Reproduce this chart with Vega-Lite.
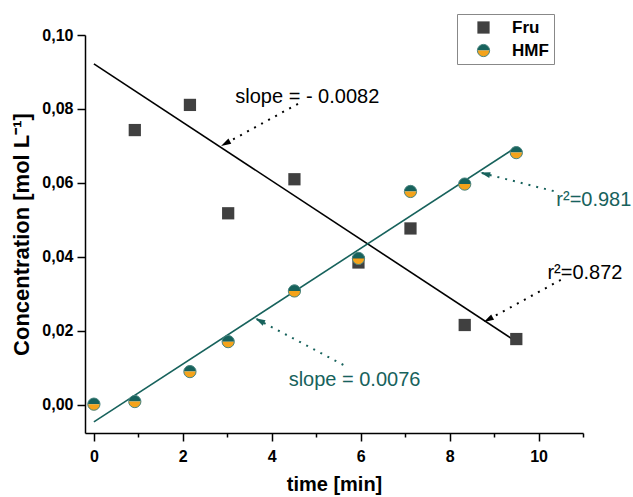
{
  "$schema": "https://vega.github.io/schema/vega-lite/v6.json",
  "autosize": "none",
  "width": 498,
  "height": 398,
  "padding": {"left": 85, "top": 35, "right": 50, "bottom": 64},
  "background": "white",
  "config": {
    "font": "Liberation Sans",
    "view": {"stroke": null},
    "legend": {"symbolOffset": 13, "labelOffset": 20, "padding": 5, "rowPadding": 5, "labelFontSize": 17, "labelFontWeight": "bold", "symbolSize": 150, "symbolOpacity": 1}
  },
  "datasets": {
    "points": [
      {"series": "Fru", "x": 0.92, "y": 0.0743},
      {"series": "Fru", "x": 2.16, "y": 0.0811},
      {"series": "Fru", "x": 3.02, "y": 0.0518},
      {"series": "Fru", "x": 4.51, "y": 0.0610},
      {"series": "Fru", "x": 5.95, "y": 0.0385},
      {"series": "Fru", "x": 7.12, "y": 0.0477},
      {"series": "Fru", "x": 8.34, "y": 0.0216},
      {"series": "Fru", "x": 9.5, "y": 0.0178},
      {"series": "HMF", "x": 0.0, "y": 0.0002},
      {"series": "HMF", "x": 0.92, "y": 0.0009},
      {"series": "HMF", "x": 2.16, "y": 0.0090},
      {"series": "HMF", "x": 3.02, "y": 0.0171},
      {"series": "HMF", "x": 4.51, "y": 0.0308},
      {"series": "HMF", "x": 5.95, "y": 0.0396},
      {"series": "HMF", "x": 7.12, "y": 0.0577},
      {"series": "HMF", "x": 8.34, "y": 0.0597},
      {"series": "HMF", "x": 9.5, "y": 0.0682}
    ],
    "fits": [
      {"grp": "fru", "x": 0.0, "y": 0.0922},
      {"grp": "fru", "x": 9.5, "y": 0.0171},
      {"grp": "hmf", "x": 0.0, "y": -0.0046},
      {"grp": "hmf", "x": 9.4, "y": 0.0689}
    ],
    "labels": [
      {"grp": "fru", "x": 3.18, "y": 0.0833, "text": "slope = - 0.0082"},
      {"grp": "hmf", "x": 10.4, "y": 0.0554, "text": "r²=0.981"},
      {"grp": "fru", "x": 10.2, "y": 0.0357, "text": "r²=0.872"},
      {"grp": "hmf", "x": 4.38, "y": 0.0068, "text": "slope = 0.0076"}
    ],
    "arrows": [
      {"id": "a1", "grp": "fru", "x": 4.59, "y": 0.0814, "x2": 2.86, "y2": 0.0700},
      {"id": "a2", "grp": "hmf", "x": 10.34, "y": 0.0578, "x2": 8.69, "y2": 0.0628},
      {"id": "a3", "grp": "fru", "x": 10.5, "y": 0.0338, "x2": 8.77, "y2": 0.0224},
      {"id": "a4", "grp": "hmf", "x": 5.61, "y": 0.0108, "x2": 3.63, "y2": 0.0234}
    ]
  },
  "layer": [
    {
      "data": {"name": "fits"},
      "transform": [{"filter": "datum.grp == 'fru'"}],
      "mark": {"type": "line", "strokeWidth": 1.6, "color": "#000000"},
      "encoding": {
        "x": {
          "field": "x", "type": "quantitative", "title": "time [min]",
          "scale": {"domain": [-0.2, 11], "nice": false, "zero": false},
          "axis": {
            "values": [0, 1, 2, 3, 4, 5, 6, 7, 8, 9, 10, 11],
            "labelExpr": "datum.value % 2 == 1 ? '' : datum.label",
            "tickSize": {"condition": {"test": "datum.value % 2 == 1", "value": 4}, "value": 8},
            "grid": false,
            "domainColor": "black", "domainWidth": 1.5,
            "tickColor": "black", "tickWidth": 1.5,
            "labelFontSize": 16, "labelFontWeight": "bold", "labelColor": "black",
            "labelPadding": 7, "labelFlush": false,
            "titleFontSize": 20, "titleFontWeight": "bold", "titleColor": "black",
            "titlePadding": 10
          }
        },
        "y": {
          "field": "y", "type": "quantitative", "title": "Concentration [mol L⁻¹]",
          "scale": {"domain": [-0.0076, 0.1], "nice": false, "zero": false},
          "axis": {
            "values": [0, 0.01, 0.02, 0.03, 0.04, 0.05, 0.06, 0.07, 0.08, 0.09, 0.1],
            "labelExpr": "round(datum.value*100) % 2 == 1 ? '' : replace(format(datum.value, '.2f'), '.', ',')",
            "tickSize": {"condition": {"test": "round(datum.value*100) % 2 == 1", "value": 4}, "value": 8},
            "grid": false,
            "domainColor": "black", "domainWidth": 1.5,
            "tickColor": "black", "tickWidth": 1.5,
            "labelFontSize": 16, "labelFontWeight": "bold", "labelColor": "black",
            "labelPadding": 4,
            "titleFontSize": 22, "titleFontWeight": "bold", "titleColor": "black",
            "titlePadding": 8
          }
        }
      }
    },
    {
      "data": {"name": "fits"},
      "transform": [{"filter": "datum.grp == 'hmf'"}],
      "mark": {"type": "line", "strokeWidth": 1.6, "color": "#17625c"},
      "encoding": {
        "x": {"field": "x", "type": "quantitative", "title": "time [min]"},
        "y": {"field": "y", "type": "quantitative", "title": "Concentration [mol L⁻¹]"}
      }
    },
    {
      "data": {"name": "points"},
      "mark": {"type": "point", "filled": true, "opacity": 1, "size": 150, "strokeWidth": 0},
      "encoding": {
        "x": {"field": "x", "type": "quantitative", "title": "time [min]"},
        "y": {"field": "y", "type": "quantitative", "title": "Concentration [mol L⁻¹]"},
        "fill": {
          "field": "series", "type": "nominal",
          "scale": {"domain": ["Fru", "HMF"], "range": ["#404040", "#17625c"]},
          "legend": {"orient": "none", "legendX": 372, "legendY": -21, "title": null, "strokeColor": "#888888", "labelColor": "black", "symbolStrokeWidth": 0}
        },
        "shape": {
          "field": "series", "type": "nominal",
          "scale": {"domain": ["Fru", "HMF"], "range": ["square", "M -1 0 A 1 1 0 0 1 1 0 Z"]},
          "legend": {"orient": "none", "legendX": 372, "legendY": -21, "title": null, "strokeColor": "#888888", "labelColor": "black", "symbolStrokeWidth": 0}
        }
      }
    },
    {
      "data": {"name": "points"},
      "transform": [{"filter": "datum.series == 'HMF'"}],
      "mark": {"type": "point", "filled": true, "opacity": 1, "size": 150, "strokeWidth": 0, "shape": "M -1 0 A 1 1 0 0 0 1 0 Z"},
      "encoding": {
        "x": {"field": "x", "type": "quantitative", "title": "time [min]"},
        "y": {"field": "y", "type": "quantitative", "title": "Concentration [mol L⁻¹]"},
        "color": {
          "field": "series", "type": "nominal",
          "scale": {"domain": ["HMF", "Fru"], "range": ["#f5a31a", "transparent"]},
          "legend": {"values": ["Fru", "HMF"], "orient": "none", "legendX": 372, "legendY": -21, "title": null, "strokeColor": null, "labelColor": "transparent", "symbolStrokeWidth": 0, "symbolType": "M -1 0 A 1 1 0 0 0 1 0 Z"}
        }
      }
    },
    {
      "data": {"name": "points"},
      "transform": [{"filter": "datum.series == 'HMF'"}],
      "mark": {"type": "point", "shape": "circle", "filled": false, "opacity": 1, "size": 150, "strokeWidth": 1},
      "encoding": {
        "x": {"field": "x", "type": "quantitative", "title": "time [min]"},
        "y": {"field": "y", "type": "quantitative", "title": "Concentration [mol L⁻¹]"},
        "stroke": {
          "field": "series", "type": "nominal",
          "scale": {"domain": ["HMF", "Fru", "-"], "range": ["#4a8580", "transparent", "transparent"]},
          "legend": {"values": ["Fru", "HMF"], "orient": "none", "legendX": 372, "legendY": -21, "title": null, "strokeColor": null, "labelColor": "transparent", "symbolStrokeWidth": 1, "symbolType": "circle", "symbolFillColor": "transparent"}
        }
      }
    },
    {
      "data": {"name": "arrows"},
      "transform": [{"filter": "datum.grp == 'fru'"}],
      "mark": {"type": "rule", "strokeWidth": 2, "strokeDash": [2, 6], "color": "#000000"},
      "encoding": {
        "x": {"field": "x", "type": "quantitative", "title": "time [min]"},
        "y": {"field": "y", "type": "quantitative", "title": "Concentration [mol L⁻¹]"},
        "x2": {"field": "x2"},
        "y2": {"field": "y2"}
      }
    },
    {
      "data": {"name": "arrows"},
      "transform": [{"filter": "datum.grp == 'hmf'"}],
      "mark": {"type": "rule", "strokeWidth": 2, "strokeDash": [2, 6], "color": "#17625c"},
      "encoding": {
        "x": {"field": "x", "type": "quantitative", "title": "time [min]"},
        "y": {"field": "y", "type": "quantitative", "title": "Concentration [mol L⁻¹]"},
        "x2": {"field": "x2"},
        "y2": {"field": "y2"}
      }
    },
    {
      "data": {"name": "arrows"},
      "transform": [{"filter": "datum.id == 'a1'"}],
      "mark": {"type": "point", "filled": true, "opacity": 1, "size": 100, "strokeWidth": 0, "angle": 241.4, "color": "#000000", "shape": "M 0 0 L 0.6 2 L -0.6 2 Z"},
      "encoding": {
        "x": {"field": "x2", "type": "quantitative", "title": "time [min]"},
        "y": {"field": "y2", "type": "quantitative", "title": "Concentration [mol L⁻¹]"}
      }
    },
    {
      "data": {"name": "arrows"},
      "transform": [{"filter": "datum.id == 'a2'"}],
      "mark": {"type": "point", "filled": true, "opacity": 1, "size": 100, "strokeWidth": 0, "angle": 284.1, "color": "#17625c", "shape": "M 0 0 L 0.6 2 L -0.6 2 Z"},
      "encoding": {
        "x": {"field": "x2", "type": "quantitative", "title": "time [min]"},
        "y": {"field": "y2", "type": "quantitative", "title": "Concentration [mol L⁻¹]"}
      }
    },
    {
      "data": {"name": "arrows"},
      "transform": [{"filter": "datum.id == 'a3'"}],
      "mark": {"type": "point", "filled": true, "opacity": 1, "size": 100, "strokeWidth": 0, "angle": 241.1, "color": "#000000", "shape": "M 0 0 L 0.6 2 L -0.6 2 Z"},
      "encoding": {
        "x": {"field": "x2", "type": "quantitative", "title": "time [min]"},
        "y": {"field": "y2", "type": "quantitative", "title": "Concentration [mol L⁻¹]"}
      }
    },
    {
      "data": {"name": "arrows"},
      "transform": [{"filter": "datum.id == 'a4'"}],
      "mark": {"type": "point", "filled": true, "opacity": 1, "size": 100, "strokeWidth": 0, "angle": 297.9, "color": "#17625c", "shape": "M 0 0 L 0.6 2 L -0.6 2 Z"},
      "encoding": {
        "x": {"field": "x2", "type": "quantitative", "title": "time [min]"},
        "y": {"field": "y2", "type": "quantitative", "title": "Concentration [mol L⁻¹]"}
      }
    },
    {
      "data": {"name": "labels"},
      "transform": [{"filter": "datum.grp == 'fru'"}],
      "mark": {"type": "text", "align": "left", "baseline": "middle", "fontSize": 20, "font": "Liberation Sans", "color": "#000000"},
      "encoding": {
        "x": {"field": "x", "type": "quantitative", "title": "time [min]"},
        "y": {"field": "y", "type": "quantitative", "title": "Concentration [mol L⁻¹]"},
        "text": {"field": "text"}
      }
    },
    {
      "data": {"name": "labels"},
      "transform": [{"filter": "datum.grp == 'hmf'"}],
      "mark": {"type": "text", "align": "left", "baseline": "middle", "fontSize": 20, "font": "Liberation Sans", "color": "#17625c"},
      "encoding": {
        "x": {"field": "x", "type": "quantitative", "title": "time [min]"},
        "y": {"field": "y", "type": "quantitative", "title": "Concentration [mol L⁻¹]"},
        "text": {"field": "text"}
      }
    }
  ]
}
